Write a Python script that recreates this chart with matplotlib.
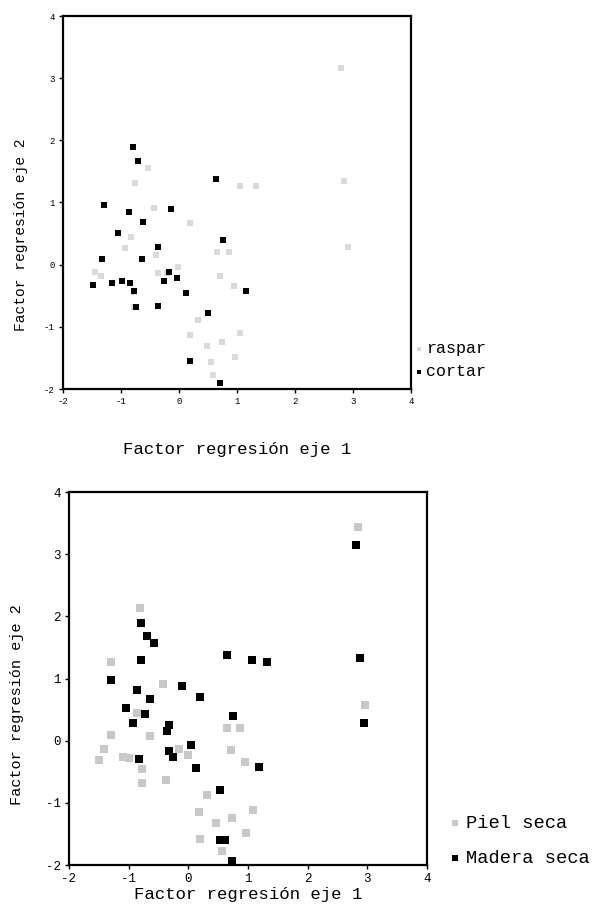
import matplotlib
matplotlib.use("Agg")
import matplotlib.pyplot as plt

# Regression factor scores (axis 1, axis 2) by group
raspar_x = [2.80, 2.84, 2.92, 1.05, 1.33, -0.76, -0.53, -0.82, -0.93, -0.39, -1.45, -0.36,
            -0.01, 0.19, 0.65, 0.95, 0.32, 0.19, 0.74, 1.05, 0.97, 0.56, 0.59, 0.48,
            -1.35, 0.71, -0.43, -0.78, -0.78, -0.20, 0.86]
raspar_y = [3.16, 1.34, 0.29, 1.27, 1.27, 1.32, 1.55, 0.45, 0.27, 0.16, -0.11, -0.14,
            -0.04, 0.67, 0.21, -0.34, -0.89, -1.13, -1.25, -1.10, -1.48, -1.57, -1.77, -1.31,
            -0.18, -0.18, 0.91, -0.44, -0.68, -0.14, 0.21]

cortar_x = [-0.80, -0.71, 0.63, -1.30, -0.13, -0.87, -0.62, -1.06, -0.36, 0.76, -1.32, -0.64,
            -0.17, -0.04, -0.26, -0.99, -1.15, -0.84, -1.48, -0.77, 0.12, 1.15, -0.74, -0.36,
            0.50, 0.19, 0.70]
cortar_y = [1.89, 1.67, 1.37, 0.96, 0.90, 0.84, 0.69, 0.51, 0.29, 0.39, 0.09, 0.09,
            -0.12, -0.21, -0.27, -0.26, -0.30, -0.30, -0.33, -0.42, -0.45, -0.42, -0.68, -0.66,
            -0.78, -1.55, -1.90]

piel_x = [-0.43, -1.29, -1.30, -0.65, -1.41, -1.49, -1.10, -0.77, -0.77, -0.38, -0.15, -0.01,
          0.64, 0.86, 0.71, 0.95, 0.32, 0.18, 0.46, 0.74, 1.08, 0.97, 0.20, 0.56,
          2.96, 2.85, -0.81, -0.86, -1.00]
piel_y = [0.91, 1.27, 0.09, 0.07, -0.14, -0.31, -0.27, -0.45, -0.68, -0.63, -0.14, -0.23,
          0.21, 0.21, -0.15, -0.35, -0.88, -1.14, -1.32, -1.25, -1.12, -1.48, -1.58, -1.78,
          0.58, 3.44, 2.13, 0.44, -0.28]

madera_x = [2.81, -0.80, -0.70, -0.57, -0.80, 0.64, 1.07, 1.32, 2.87, -1.29, -0.86, -0.11,
            -0.64, 0.19, -1.05, -0.73, 0.75, -0.93, -0.33, -0.36, 2.94, 0.04, -0.33, -0.25,
            -0.83, 0.13, 1.18, 0.53, 0.53, 0.62, 0.73]
madera_y = [3.14, 1.89, 1.69, 1.57, 1.29, 1.38, 1.29, 1.27, 1.33, 0.97, 0.82, 0.88,
            0.67, 0.70, 0.52, 0.43, 0.40, 0.28, 0.25, 0.15, 0.28, -0.07, -0.17, -0.26,
            -0.29, -0.44, -0.43, -0.79, -1.60, -1.60, -1.93]

ticks = [-2, -1, 0, 1, 2, 3, 4]
xlabel = "Factor regresión eje 1"
ylabel = "Factor regresión eje 2"

W, H = 602, 922
MONO = ["Liberation Mono", "DejaVu Sans Mono"]
plt.rcParams["font.family"] = MONO

fig = plt.figure(figsize=(W / 100, H / 100), dpi=100)
fig.patch.set_facecolor("white")


def px_axes(left, top, right, bottom):
    return fig.add_axes([left / W, 1 - bottom / H, (right - left) / W, (bottom - top) / H])


def style(ax, tick_fs, xlab_fs, ylab_fs, xlab_pad, ylab_xy):
    ax.set_xlim(-2, 4)
    ax.set_ylim(-2, 4)
    ax.set_xticks(ticks)
    ax.set_yticks(ticks)
    ax.set_xticklabels([str(t) for t in ticks])
    ax.set_yticklabels([str(t) for t in ticks])
    ax.tick_params(direction="out", length=3, width=1, labelsize=tick_fs, pad=3,
                   top=False, right=False)
    for s in ax.spines.values():
        s.set_linewidth(1.6)
        s.set_color("black")
    ax.set_xlabel(xlabel, fontsize=xlab_fs, labelpad=xlab_pad)
    ax.set_ylabel(ylabel, fontsize=ylab_fs)
    ax.yaxis.set_label_coords(*ylab_xy)


# Upper panel: raspar / cortar
ax1 = px_axes(63, 16, 411, 389)
h1 = ax1.scatter(raspar_x, raspar_y, marker="s", s=22, color="#dadada", linewidths=0,
                 label="raspar", zorder=2)
h2 = ax1.scatter(cortar_x, cortar_y, marker="s", s=20, color="black", linewidths=0,
                 label="cortar", zorder=3)
style(ax1, 6.5, 12.5, 10.5, 26, (-0.10, 0.413))
fig.legend(handles=[h1, h2], loc="upper left", bbox_to_anchor=(416 / W, 1 - 341 / H),
           frameon=False, fontsize=12, handlelength=0.4, handletextpad=0.2,
           labelspacing=0.5, markerscale=0.5, borderaxespad=0, borderpad=0)

# Lower panel: Piel seca / Madera seca
ax2 = px_axes(69, 492, 427, 865)
h3 = ax2.scatter(piel_x, piel_y, marker="s", s=28, color="#c8c8c8", linewidths=0,
                 label="Piel seca", zorder=2)
h4 = ax2.scatter(madera_x, madera_y, marker="s", s=28, color="black", linewidths=0,
                 label="Madera seca", zorder=3)
style(ax2, 9, 12.5, 11, 1, (-0.126, 0.429))
fig.legend(handles=[h3, h4], loc="upper left", bbox_to_anchor=(450 / W, 1 - 815 / H),
           frameon=False, fontsize=13.5, handlelength=0.5, handletextpad=0.35,
           labelspacing=0.95, markerscale=0.7, borderaxespad=0, borderpad=0)

fig.savefig("out.png", dpi=100, facecolor="white")
